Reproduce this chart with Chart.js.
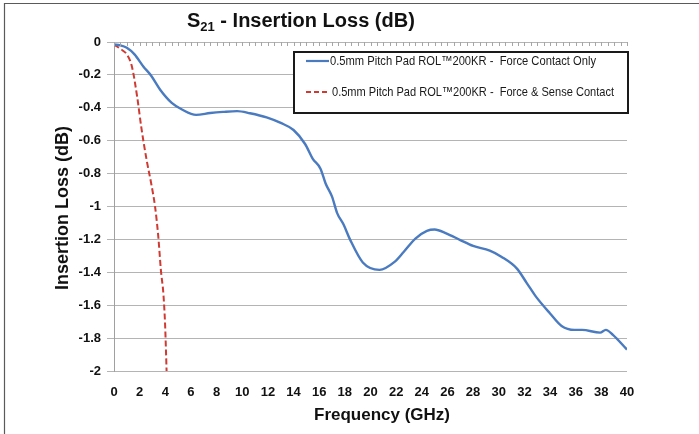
<!DOCTYPE html>
<html>
<head>
<meta charset="utf-8">
<script src="https://cdn.jsdelivr.net/npm/chart.js@4/dist/chart.umd.min.js"></script>
<style>
	html, body { margin: 0; padding: 0; background: #fff; }
	#wrap { width: 699px; height: 434px; }
</style>
</head>
<body>
<div id="wrap"><canvas id="s21-chart" width="699" height="434"></canvas></div>
<script>
	'use strict';

	// Force contact only (blue)
	const forceFreq = [0, 0.5, 1.0, 1.6, 2.3, 2.9, 3.6, 4.5, 5.3, 6.4, 7.5, 8.5, 9.6, 10.6, 11.9, 13.0, 14.0, 14.9, 15.5, 16.1, 16.5, 17.0, 17.4, 17.9, 18.4, 19.4, 20.7, 21.9, 22.6, 23.5, 24.4, 25.0, 25.9, 27.0, 28.0, 29.3, 30.2, 31.4, 32.2, 32.9, 34.0, 34.9, 35.9, 36.5, 37.9, 38.35, 38.9, 40];
	const forceLoss = [-0.015, -0.02, -0.035, -0.075, -0.15, -0.205, -0.29, -0.37, -0.41, -0.443, -0.432, -0.425, -0.42, -0.433, -0.458, -0.492, -0.535, -0.62, -0.71, -0.77, -0.86, -0.94, -1.04, -1.11, -1.2, -1.34, -1.385, -1.335, -1.275, -1.195, -1.148, -1.14, -1.163, -1.204, -1.24, -1.268, -1.305, -1.376, -1.467, -1.548, -1.65, -1.726, -1.75, -1.75, -1.767, -1.75, -1.78, -1.87];

	// Force & sense contact (red dashed)
	const senseFreq = [0, 0.7, 1.0, 1.4, 1.8, 2.15, 2.55, 2.9, 3.2, 3.45, 3.66, 3.85, 3.98, 4.05, 4.1];
	const senseLoss = [-0.015, -0.053, -0.075, -0.15, -0.33, -0.53, -0.72, -0.86, -1.0, -1.18, -1.39, -1.53, -1.71, -1.87, -2.0];

	const seriesNames = [
		'0.5mm Pitch Pad ROL\u2122200KR -  Force Contact Only',
		'0.5mm Pitch Pad ROL\u2122200KR -  Force & Sense Contact'
	];
	const xTicks = [0, 40, 2];      // min, max, step (GHz)
	const yTicks = [-2, 0, 0.2];    // min, max, step (dB)

	const blue = '#4a7bc0';
	const red = '#cf3a32';

	const toPoints = (xs, ys) => xs.map((x, i) => ({ x: x, y: ys[i] }));

	const decor = {
		id: 'decor',
		beforeDraw(chart) {
			const ctx = chart.ctx;
			// outer frame (only top / left visible in the picture)
			ctx.save();
			ctx.strokeStyle = '#5a5a5a';
			ctx.lineWidth = 1.2;
			ctx.beginPath();
			ctx.moveTo(4.5, 440);
			ctx.lineTo(4.5, 3.5);
			ctx.lineTo(705, 3.5);
			ctx.stroke();
			ctx.restore();
		},
		afterDraw(chart) {
			const ctx = chart.ctx;
			const xs = chart.scales.x;
			const area = chart.chartArea;

			ctx.save();
			// minor ticks hanging from the top axis
			ctx.strokeStyle = '#a6a6a6';
			ctx.lineWidth = 1;
			ctx.beginPath();
			for (let f = xTicks[0]; f <= xTicks[1]; f += 0.5) {
				const px = Math.round(xs.getPixelForValue(f)) + 0.5;
				ctx.moveTo(px, area.top);
				ctx.lineTo(px, area.top + 4);
			}
			ctx.stroke();

			// chart title with subscript
			ctx.fillStyle = '#111';
			ctx.textBaseline = 'alphabetic';
			ctx.textAlign = 'left';
			let tx = 187;
			ctx.font = 'bold 20px "Liberation Sans", Arial, sans-serif';
			ctx.fillText('S', tx, 27);
			tx += ctx.measureText('S').width;
			ctx.font = 'bold 13px "Liberation Sans", Arial, sans-serif';
			ctx.fillText('21', tx, 31);
			tx += ctx.measureText('21').width;
			ctx.font = 'bold 20px "Liberation Sans", Arial, sans-serif';
			ctx.fillText(' - Insertion Loss (dB)', tx, 27);

			// axis titles
			ctx.font = 'bold 17px "Liberation Sans", Arial, sans-serif';
			ctx.textAlign = 'center';
			ctx.fillText('Frequency (GHz)', 382, 420);

			ctx.save();
			ctx.translate(68, 208);
			ctx.rotate(-Math.PI / 2);
			ctx.font = 'bold 18px "Liberation Sans", Arial, sans-serif';
			ctx.fillText('Insertion Loss (dB)', 0, 0);
			ctx.restore();

			// legend box
			ctx.fillStyle = '#fff';
			ctx.fillRect(294, 52, 334, 61);
			ctx.strokeStyle = '#1a1a1a';
			ctx.lineWidth = 2;
			ctx.strokeRect(294, 52, 334, 61);

			ctx.lineWidth = 2.2;
			ctx.strokeStyle = blue;
			ctx.beginPath();
			ctx.moveTo(306, 61);
			ctx.lineTo(329, 61);
			ctx.stroke();

			ctx.strokeStyle = red;
			ctx.setLineDash([5, 3]);
			ctx.beginPath();
			ctx.moveTo(306, 92);
			ctx.lineTo(328, 92);
			ctx.stroke();
			ctx.setLineDash([]);

			ctx.fillStyle = '#1a1a1a';
			ctx.textAlign = 'left';
			ctx.font = '13px "Liberation Sans", Arial, sans-serif';
			ctx.fillText(seriesNames[0], 330, 65, 266);
			ctx.fillText(seriesNames[1], 332, 96, 282);
			ctx.restore();
		}
	};

	new Chart(document.getElementById('s21-chart'), {
		type: 'line',
		data: {
			datasets: [
				{
					label: seriesNames[0],
					data: toPoints(forceFreq, forceLoss),
					borderColor: blue,
					borderWidth: 2.4,
					pointRadius: 0,
					cubicInterpolationMode: 'monotone',
					fill: false
				},
				{
					label: seriesNames[1],
					data: toPoints(senseFreq, senseLoss),
					borderColor: red,
					borderWidth: 2,
					borderDash: [6, 3],
					pointRadius: 0,
					cubicInterpolationMode: 'monotone',
					fill: false
				}
			]
		},
		options: {
			responsive: false,
			animation: false,
			events: [],
			layout: {
				padding: { left: 0, top: 42, right: 72, bottom: 0 }
			},
			plugins: {
				legend: { display: false },
				title: { display: false },
				tooltip: { enabled: false }
			},
			scales: {
				x: {
					type: 'linear',
					min: xTicks[0],
					max: xTicks[1],
					afterFit(scale) { scale.height = 63; },
					grid: { display: false, drawTicks: false },
					border: { display: false },
					ticks: {
						stepSize: xTicks[2],
						padding: 14,
						color: '#111',
						maxRotation: 0,
						autoSkip: false,
						font: { family: '"Liberation Sans", Arial, sans-serif', size: 13, weight: 'bold' }
					}
				},
				y: {
					min: yTicks[0],
					max: yTicks[1],
					afterFit(scale) { scale.width = 114; },
					grid: { color: '#b4b4b4', lineWidth: 1, tickLength: 7 },
					border: { display: true, color: '#a0a0a0', width: 1 },
					ticks: {
						stepSize: yTicks[2],
						padding: 6,
						color: '#111',
						font: { family: '"Liberation Sans", Arial, sans-serif', size: 13, weight: 'bold' },
						callback: function (v) {
							const r = Math.round(v * 10) / 10;
							return r === 0 ? '0' : String(r);
						}
					}
				}
			}
		},
		plugins: [decor]
	});
</script>
</body>
</html>
